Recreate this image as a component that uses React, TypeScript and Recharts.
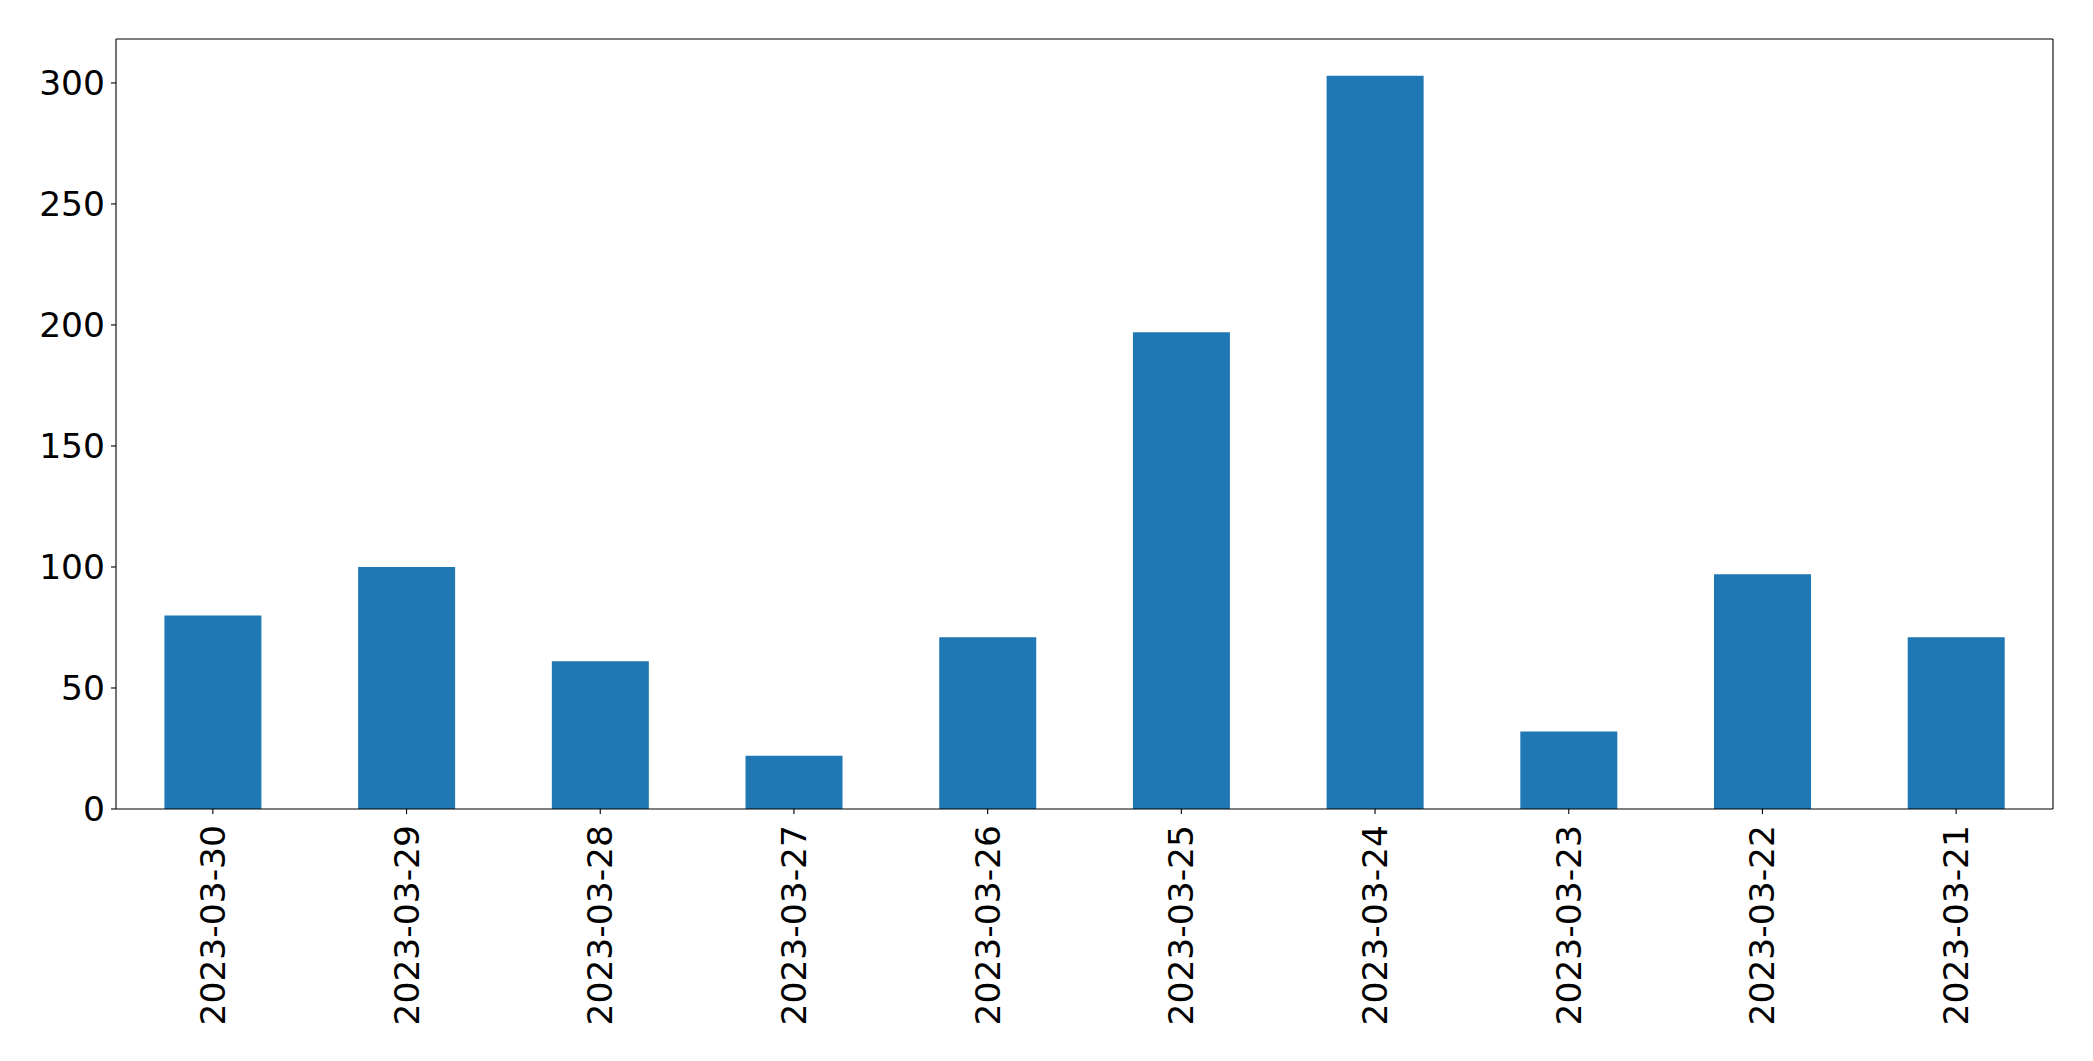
import React from "react";
import { BarChart, Bar, XAxis, YAxis } from "recharts";

if (typeof document !== "undefined") {
  document.body.style.margin = "0";
}

const categories = [
  "2023-03-30",
  "2023-03-29",
  "2023-03-28",
  "2023-03-27",
  "2023-03-26",
  "2023-03-25",
  "2023-03-24",
  "2023-03-23",
  "2023-03-22",
  "2023-03-21",
];
const values = [80, 100, 61, 22, 71, 197, 303, 32, 97, 71];
const yTicks = [0, 50, 100, 150, 200, 250, 300];

const data = categories.map((c, i) => ({ date: c, value: values[i] }));

const FONT = "DejaVu Sans";
const FS = 34.5;

const XTick = (props: any) => {
  const { x, y, payload } = props;
  return (
    <text
      x={x}
      y={y}
      transform={`rotate(-90, ${x}, ${y})`}
      textAnchor="end"
      dominantBaseline="central"
      fontFamily={FONT}
      fontSize={FS}
      fill="#000"
    >
      {payload.value}
    </text>
  );
};

const YTick = (props: any) => {
  const { x, y, payload } = props;
  return (
    <text
      x={x}
      y={y}
      textAnchor="end"
      dominantBaseline="central"
      fontFamily={FONT}
      fontSize={FS}
      fill="#000"
    >
      {payload.value}
    </text>
  );
};

export default function App() {
  const line = { stroke: "#000", strokeWidth: 1.1 };
  return (
    <div style={{ width: 2093, height: 1061, background: "#fff" }}>
      <BarChart
        width={2093}
        height={1061}
        data={data}
        margin={{ top: 38, right: 39, bottom: 0, left: 0 }}
        barCategoryGap="25%"
      >
        <XAxis
          dataKey="date"
          xAxisId="main"
          height={252}
          interval={0}
          tickSize={5}
          tickMargin={11}
          axisLine={line}
          tickLine={line}
          tick={<XTick />}
        />
        <XAxis
          dataKey="date"
          xAxisId="top"
          orientation="top"
          height={1}
          tick={false}
          tickLine={false}
          axisLine={line}
        />
        <YAxis
          yAxisId="main"
          width={116}
          domain={[0, 318.15]}
          ticks={yTicks}
          allowDataOverflow
          tickSize={5}
          tickMargin={6}
          axisLine={line}
          tickLine={line}
          tick={<YTick />}
        />
        <YAxis
          yAxisId="right"
          orientation="right"
          width={1}
          domain={[0, 318.15]}
          tick={false}
          tickLine={false}
          axisLine={line}
        />
        <Bar
          dataKey="value"
          xAxisId="main"
          yAxisId="main"
          fill="#1f77b4"
          isAnimationActive={false}
        />
      </BarChart>
    </div>
  );
}
